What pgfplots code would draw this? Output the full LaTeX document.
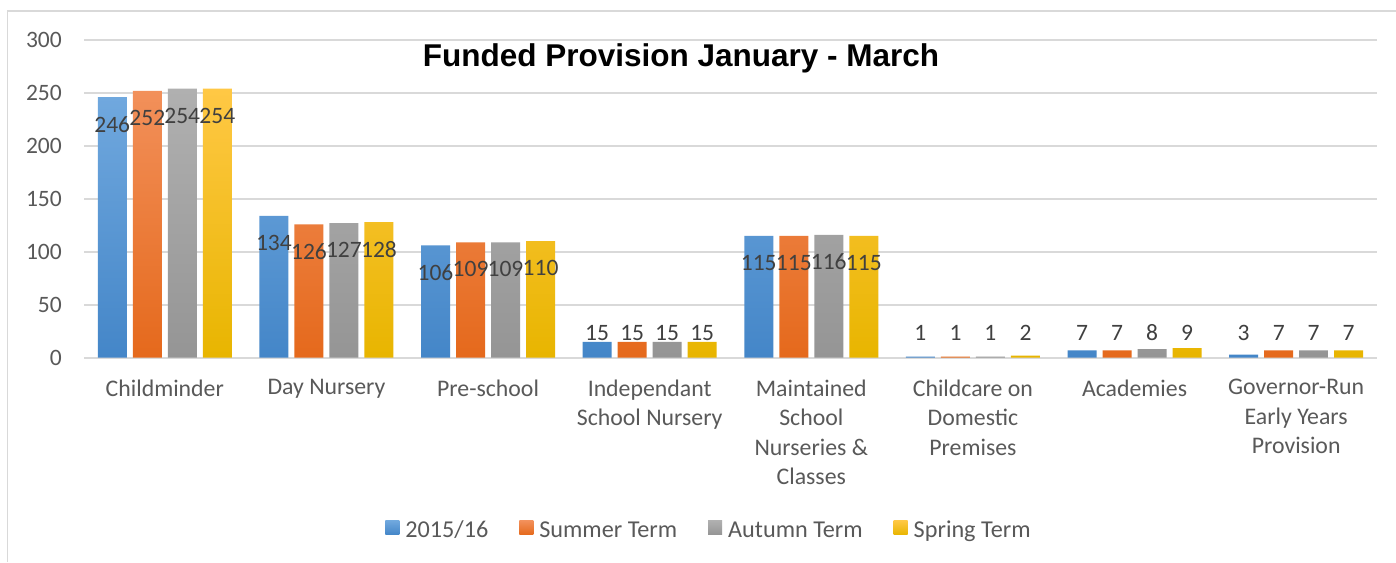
\documentclass[border=0pt]{standalone}
\usepackage{pgfplots}
\pgfplotsset{compat=1.18}
\usepackage{pgfplotstable}
\usepackage{graphicx}
\usepackage{fontspec}
\setmainfont{Carlito}
\newfontfamily\titlefont{Liberation Sans}
\definecolor{blueT}{HTML}{70A8DE}
\definecolor{blueB}{HTML}{4486C8}
\definecolor{orangeT}{HTML}{F2905A}
\definecolor{orangeB}{HTML}{E5691C}
\definecolor{grayT}{HTML}{B0B0B0}
\definecolor{grayB}{HTML}{959595}
\definecolor{goldT}{HTML}{FFC845}
\definecolor{goldB}{HTML}{E8B500}
\definecolor{gridgray}{HTML}{D9D9D9}
\definecolor{framegray}{HTML}{D9D9D9}
\definecolor{tickgray}{HTML}{595959}
\definecolor{labelgray}{HTML}{404040}
\pgfplotstableread{
x a b c d
0 246 252 254 254
1 134 126 127 128
2 106 109 109 110
3 15 15 15 15
4 115 115 116 115
5 1 1 1 2
6 7 7 8 9
7 3 7 7 7
}\datatable
\begin{document}
\begin{tikzpicture}[x=1pt,y=1pt]
\path[use as bounding box] (0,0) rectangle (1396,562);
\fill[white] (0,0) rectangle (1396,562);
\draw[framegray, line width=1.7pt] (7.5,0) -- (7.5,551.3) -- (1396,551.3);
\begin{axis}[
  at={(84pt,204.3pt)}, anchor=south west, scale only axis,
  width=1293pt, height=317.7pt,
  xmin=-0.5, xmax=7.5, ymin=0, ymax=300, enlargelimits=false,
  ytick={0,50,...,300}, xtick={0,...,7},
  xticklabels={Childminder, Day Nursery, Pre-school, {Independant\\School Nursery}, {Maintained\\School\\Nurseries \&\\Classes}, {Childcare on\\Domestic\\Premises}, Academies, {Governor-Run\\Early Years\\Provision}},
  axis line style={draw=none}, major tick length=0pt,
  ymajorgrids, grid style={line width=1.6pt, color=gridgray},
  /pgf/number format/assume math mode=true,
  yticklabel style={font=\fontsize{23.5}{28}\selectfont, text=tickgray, inner sep=0pt, xshift=-22pt},
  xticklabel style={font=\fontsize{23.8}{29.5}\selectfont, text=tickgray, inner sep=0pt, anchor=north, align=center, yshift=-21.6pt},
  legend style={at={(0.4826,-0.5423)}, anchor=center, draw=none, fill=none,
    font=\fontsize{24.2}{28}\selectfont, text=tickgray, inner sep=0pt,
    nodes={inner sep=0pt},
    /tikz/every even column/.append style={column sep=31pt},
    /tikz/every odd column/.append style={column sep=6pt}},
  legend columns=4,
  legend image code/.code={\path[#1] (0pt,-4.5pt) rectangle (14pt,9.5pt);},
  every node near coord/.append style={anchor=center, font=\fontsize{23.5}{28}\selectfont, text=labelgray, inner sep=0pt},
]
\addplot[ybar, bar width=0.1795, bar shift=-0.325, draw=none, top color=blueT, bottom color=blueB] table[x=x,y=a]{\datatable};
\addplot[ybar, bar width=0.1795, bar shift=-0.108, draw=none, top color=orangeT, bottom color=orangeB] table[x=x,y=b]{\datatable};
\addplot[ybar, bar width=0.1795, bar shift=0.108, draw=none, top color=grayT, bottom color=grayB] table[x=x,y=c]{\datatable};
\addplot[ybar, bar width=0.1795, bar shift=0.325, draw=none, top color=goldT, bottom color=goldB] table[x=x,y=d]{\datatable};
\legend{2015/16, Summer Term, Autumn Term, Spring Term}
\addplot[draw=none, forget plot, nodes near coords, point meta=explicit symbolic] table[x expr=\thisrow{x}-0.325, y expr={max(\thisrow{a}-25.5,23.7)}, meta=a]{\datatable};
\addplot[draw=none, forget plot, nodes near coords, point meta=explicit symbolic] table[x expr=\thisrow{x}-0.108, y expr={max(\thisrow{b}-25.5,23.7)}, meta=b]{\datatable};
\addplot[draw=none, forget plot, nodes near coords, point meta=explicit symbolic] table[x expr=\thisrow{x}+0.108, y expr={max(\thisrow{c}-25.5,23.7)}, meta=c]{\datatable};
\addplot[draw=none, forget plot, nodes near coords, point meta=explicit symbolic] table[x expr=\thisrow{x}+0.325, y expr={max(\thisrow{d}-25.5,23.7)}, meta=d]{\datatable};
\end{axis}
\node[font=\titlefont\bfseries\fontsize{31.5}{36}\selectfont, anchor=base, inner sep=0pt] at (681,495) {Funded Provision January - March};
\end{tikzpicture}
\end{document}
